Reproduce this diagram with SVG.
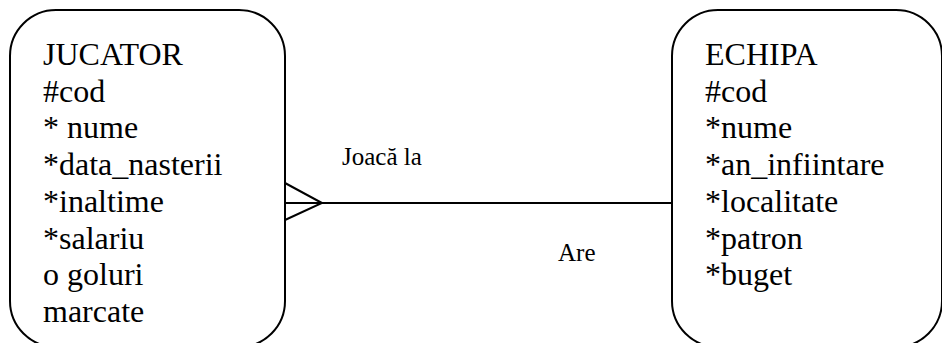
<svg xmlns="http://www.w3.org/2000/svg" width="942" height="343" viewBox="0 0 942 343">
<style>
.box{fill:#fff;stroke:#000;stroke-width:2}
.attr{font-family:"Times New Roman","Liberation Serif",Tinos,serif;font-size:32px;fill:#000}
.lbl{font-family:"Liberation Serif","Times New Roman",serif;font-size:25px;fill:#000}
.c{fill:none;stroke:#000;stroke-width:2}
</style>
<rect width="942" height="343" fill="#fff"/>
<g id="jucator">
<rect class="box" x="10" y="10" width="275" height="337" rx="46" ry="46"/>
<text class="attr" x="43" y="65">JUCATOR</text>
<text class="attr" x="43" y="101.7">#cod</text>
<text class="attr" x="43" y="138.4">* nume</text>
<text class="attr" x="43" y="175">*data_nasterii</text>
<text class="attr" x="43" y="211.8">*inaltime</text>
<text class="attr" x="43" y="248.5">*salariu</text>
<text class="attr" x="43" y="285">o goluri</text>
<text class="attr" x="43" y="322">marcate</text>
</g>
<g id="echipa">
<rect class="box" x="672" y="10" width="270" height="337" rx="46" ry="46"/>
<text class="attr" x="705" y="65">ECHIPA</text>
<text class="attr" x="705" y="101.7">#cod</text>
<text class="attr" x="705" y="138.4">*nume</text>
<text class="attr" x="705" y="175">*an_infiintare</text>
<text class="attr" x="705" y="211.8">*localitate</text>
<text class="attr" x="705" y="248.5">*patron</text>
<text class="attr" x="705" y="285">*buget</text>
</g>
<g id="connectors">
<line class="c" x1="285" y1="203" x2="672" y2="203"/>
<polyline class="c" points="285,183 322,203 285,220"/>
<text class="lbl" x="342" y="165">Joacă la</text>
<text class="lbl" x="558" y="261">Are</text>
</g>
</svg>
